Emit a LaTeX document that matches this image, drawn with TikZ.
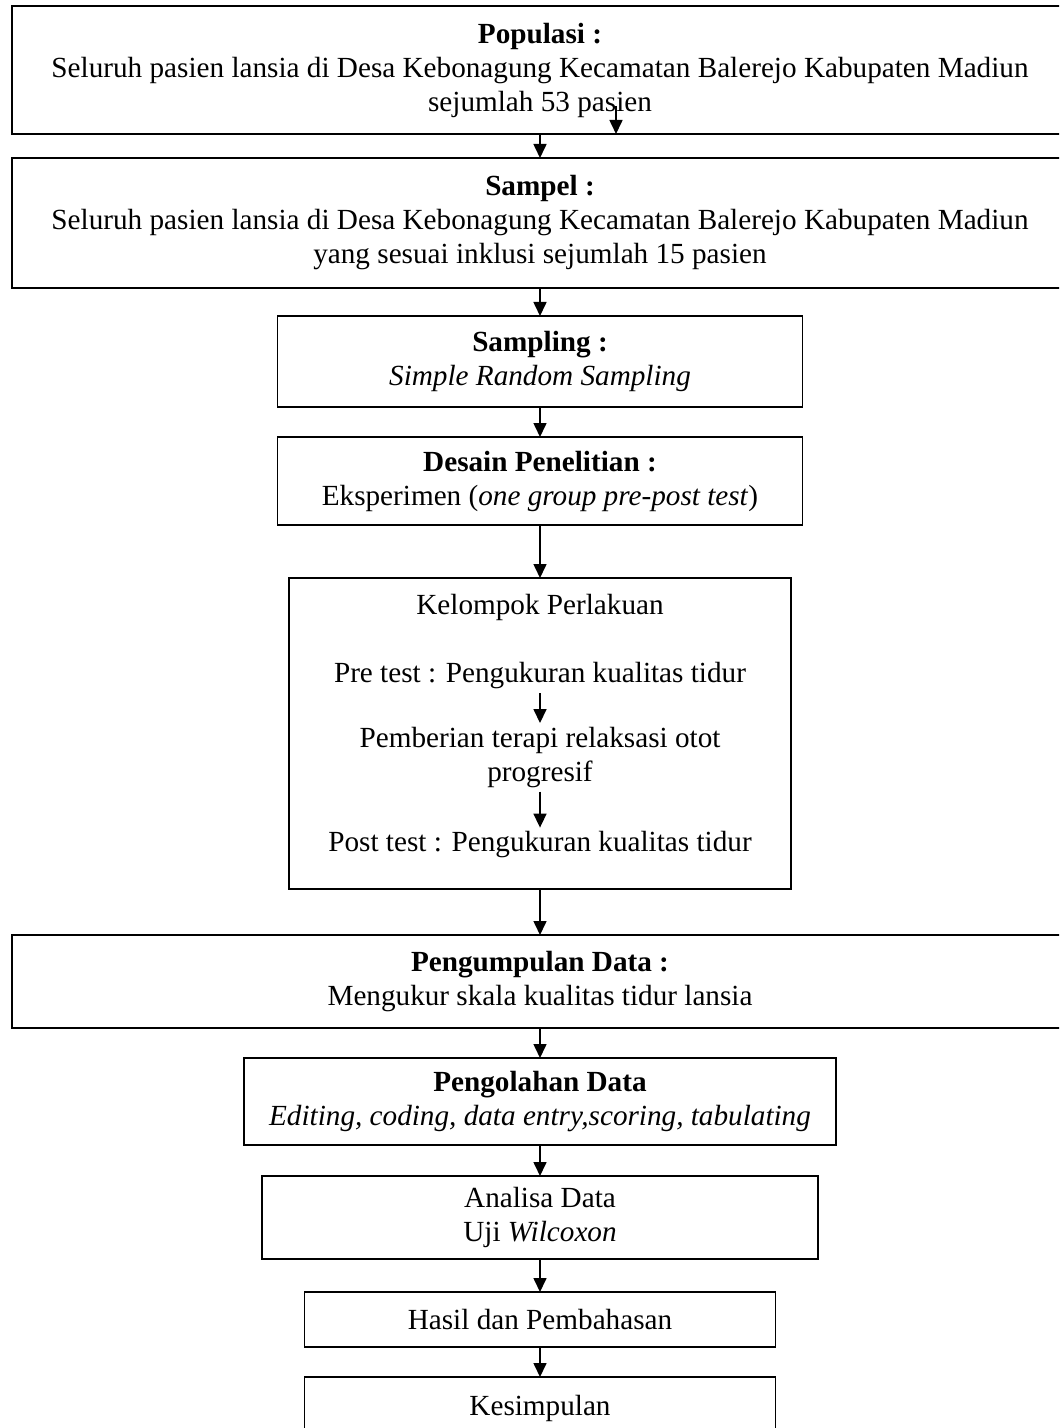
\documentclass[tikz,border=0pt]{standalone}
\usepackage{fontspec}
\setmainfont{Liberation Serif}
\usetikzlibrary{positioning, arrows.meta}

\begin{document}
\begin{tikzpicture}[x=0.5pt, y=-0.5pt, node distance=14pt]

% Define block styles
\tikzstyle{block} = [rectangle, draw, line width=0.8pt, outer sep=0pt, text centered, align=center, inner sep=2pt, font=\fontsize{14.6}{17}\selectfont]
\tikzstyle{inner} = [text centered, align=center, inner sep=2pt, outer sep=0pt, font=\fontsize{14.6}{17}\selectfont]
\tikzstyle{arrow} = [line width=0.8pt, ->, >={Triangle[length=7pt,width=6.5pt]}]

\useasboundingbox (0,0) rectangle (1059,1428);
\clip (0,0) rectangle (1059,1428);

% Nodes
\node (pop) [block, minimum width=528pt, minimum height=64pt] at (540,70) {\textbf{Populasi :}\\Seluruh pasien lansia di Desa Kebonagung Kecamatan Balerejo Kabupaten Madiun\\sejumlah 53 pasien};
\node (sam) [block, minimum width=528pt, minimum height=65pt, below=12pt of pop] {\textbf{Sampel :}\\Seluruh pasien lansia di Desa Kebonagung Kecamatan Balerejo Kabupaten Madiun\\yang sesuai inklusi sejumlah 15 pasien};
\node (samp) [block, minimum width=262.5pt, minimum height=45.5pt, below=14pt of sam] {\textbf{Sampling :}\\\textit{Simple Random Sampling}};
\node (desain) [block, minimum width=262.5pt, minimum height=44pt, below=15pt of samp] {\textbf{Desain Penelitian :}\\Eksperimen (\textit{one group pre-post test})};
\node (kel) [block, minimum width=251pt, minimum height=155.5pt, below=26.5pt of desain] {};
\node (kelt) [inner, below=6pt of kel.north] {Kelompok Perlakuan};
\node (pre) [inner, below=17pt of kelt] {Pre test : Pengukuran kualitas tidur};
\node (beri) [inner, below=15pt of pre] {Pemberian terapi relaksasi otot\\progresif};
\node (post) [inner, below=18pt of beri] {Post test : Pengukuran kualitas tidur};
\node (kumpul) [block, minimum width=528pt, minimum height=46.5pt, below=23pt of kel] {\textbf{Pengumpulan Data :}\\Mengukur skala kualitas tidur lansia};
\node (olah) [block, minimum width=296pt, minimum height=43.5pt, below=15pt of kumpul] {\textbf{Pengolahan Data}\\\textit{Editing, coding, data entry,scoring, tabulating}};
\node (analisa) [block, minimum width=278pt, minimum height=41.5pt, below=15.5pt of olah] {Analisa Data\\Uji \textit{Wilcoxon}};
\node (hasil) [block, minimum width=235.5pt, minimum height=27.5pt, below=16.5pt of analisa] {Hasil dan Pembahasan};
\node (simpul) [block, minimum width=235.5pt, minimum height=31pt, below=15pt of hasil] {Kesimpulan};
\coordinate (stray) at (616,106);

% Arrows
\draw [arrow] (pop) -- (sam);
\draw [arrow] (stray) -- (stray |- pop.south);
\draw [arrow] (sam) -- (samp);
\draw [arrow] (samp) -- (desain);
\draw [arrow] (desain) -- (kel);
\draw [arrow] (pre) -- (beri);
\draw [arrow] (beri) -- (post);
\draw [arrow] (kel) -- (kumpul);
\draw [arrow] (kumpul) -- (olah);
\draw [arrow] (olah) -- (analisa);
\draw [arrow] (analisa) -- (hasil);
\draw [arrow] (hasil) -- (simpul);

\end{tikzpicture}
\end{document}
